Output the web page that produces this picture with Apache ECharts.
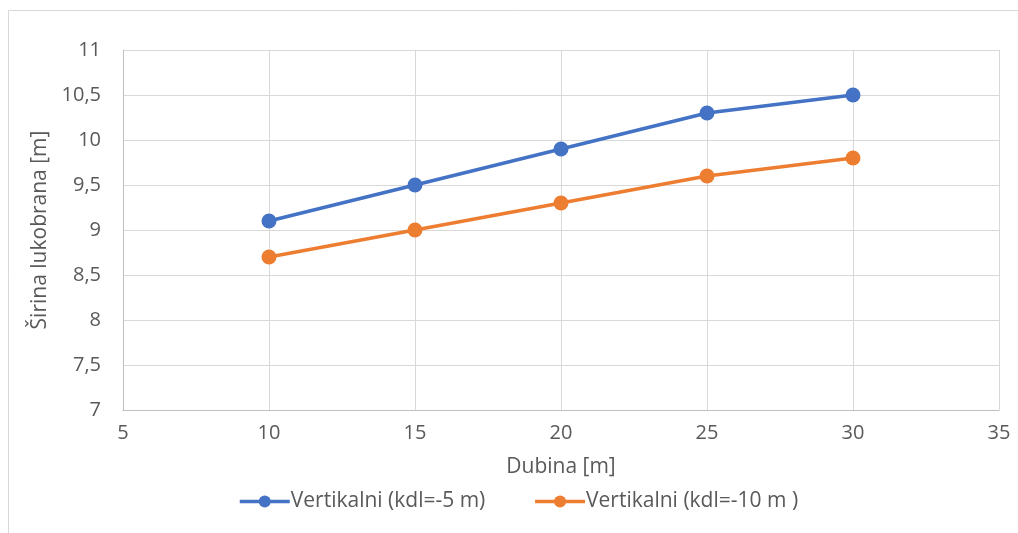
<!DOCTYPE html>
<html>
<head>
<meta charset="utf-8">
<script src="https://cdn.jsdelivr.net/npm/echarts@6/dist/echarts.min.js"></script>
<style>
  html, body { margin: 0; padding: 0; background: #fff; }
  #chart { width: 1018px; height: 533px; }
</style>
</head>
<body>
<div id="chart"></div>
<script>
// Depth (m) on x, breakwater width (m) on y
const dubina = [10, 15, 20, 25, 30];
const kdl5 = [9.1, 9.5, 9.9, 10.3, 10.5];
const kdl10 = [8.7, 9.0, 9.3, 9.6, 9.8];
const seriesNames = ['Vertikalni (kdl=-5 m)', 'Vertikalni (kdl=-10 m )'];
const colors = ['#4472C4', '#ED7D31'];

const font = '"Open Sans", "Noto Sans", sans-serif';
const textColor = '#595959';

const chart = echarts.init(document.getElementById('chart'), null, { renderer: 'canvas' });

function pairs(xs, ys) { return xs.map((x, i) => [x, ys[i]]); }

function lineSeries(name, data, color) {
  return {
    name: name,
    type: 'line',
    data: data,
    symbol: 'circle',
    symbolSize: 15,
    lineStyle: { width: 3.5, color: color },
    itemStyle: { color: color },
    emphasis: { disabled: true },
    animation: false
  };
}

chart.setOption({
  backgroundColor: '#fff',
  animation: false,
  graphic: [{
    type: 'rect',
    shape: { x: 8.5, y: 10.5, width: 1030, height: 540 },
    style: { fill: 'none', stroke: '#d9d9d9', lineWidth: 1 },
    silent: true, z: -1
  }],
  grid: { left: 123, right: 19, top: 50, bottom: 123 },
  xAxis: {
    type: 'value', min: 5, max: 35, interval: 5,
    name: 'Dubina [m]', nameLocation: 'middle', nameGap: 47,
    nameTextStyle: { fontFamily: font, fontSize: 21, color: textColor },
    axisLine: { show: true, lineStyle: { color: '#bfbfbf', width: 1 } },
    axisTick: { show: false },
    axisLabel: { fontFamily: font, fontSize: 20, color: textColor, margin: 13 },
    splitLine: { show: true, lineStyle: { color: '#d9d9d9', width: 1 } }
  },
  yAxis: {
    type: 'value', min: 7, max: 11, interval: 0.5,
    name: 'Širina lukobrana [m]', nameLocation: 'middle', nameGap: 72,
    nameTextStyle: { fontFamily: font, fontSize: 21, color: textColor },
    axisLine: { show: true, lineStyle: { color: '#bfbfbf', width: 1 } },
    axisTick: { show: false },
    axisLabel: {
      fontFamily: font, fontSize: 20, color: textColor, margin: 22,
      formatter: v => String(v).replace('.', ',')
    },
    splitLine: { show: true, lineStyle: { color: '#d9d9d9', width: 1 } }
  },
  legend: {
    bottom: 16, left: 233,
    itemWidth: 50, itemHeight: 15, itemGap: 48,
    lineStyle: { width: 3.5 },
    textStyle: { fontFamily: font, fontSize: 21, color: textColor, padding: [0, 0, 0, -4] },
    data: seriesNames
  },
  series: [
    lineSeries(seriesNames[0], pairs(dubina, kdl5), colors[0]),
    lineSeries(seriesNames[1], pairs(dubina, kdl10), colors[1])
  ]
});
</script>
</body>
</html>
